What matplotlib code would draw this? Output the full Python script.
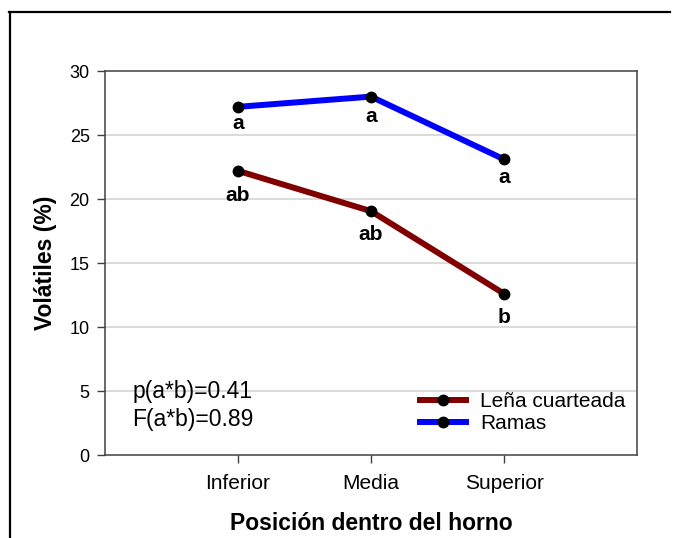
import matplotlib
matplotlib.use("Agg")
import matplotlib.pyplot as plt
from matplotlib.lines import Line2D

plt.rcParams['font.family'] = ['Liberation Sans', 'DejaVu Sans']

posiciones = ["Inferior", "Media", "Superior"]
lena = [22.2, 19.05, 12.6]
ramas = [27.2, 28.0, 23.1]
letras_lena = ["ab", "ab", "b"]
letras_ramas = ["a", "a", "a"]
stats = ["p(a*b)=0.41", "F(a*b)=0.89"]

x = [1, 2, 3]

fig = plt.figure(figsize=(6.74, 5.38), dpi=100)
ax = fig.add_axes([105/674, 1-455/538, 532/674, 384/538])

ax.plot(x, lena, color='#800000', lw=4.3, marker='o', ms=7.5,
        mfc='black', mec='black', label='Leña cuarteada', zorder=3)
ax.plot(x, ramas, color='#0000ff', lw=4.3, marker='o', ms=7.5,
        mfc='black', mec='black', label='Ramas', zorder=3)

# letras de significancia debajo de cada punto (desplazamiento en px)
off_lena = [-25, -23, -24]
off_ramas = [-17, -20, -18]
for xi, yi, t, o in zip(x, lena, letras_lena, off_lena):
    ax.annotate(t, (xi, yi), xytext=(0, o * 0.72), textcoords='offset points',
                ha='center', va='center', fontsize=15, fontweight='bold')
for xi, yi, t, o in zip(x, ramas, letras_ramas, off_ramas):
    ax.annotate(t, (xi, yi), xytext=(0, o * 0.72), textcoords='offset points',
                ha='center', va='center', fontsize=15, fontweight='bold')

ax.text(0.051, 0.165, stats[0], transform=ax.transAxes, fontsize=16.5, va='center')
ax.text(0.051, 0.092, stats[1], transform=ax.transAxes, fontsize=16.5, va='center')

ax.set_xlim(0, 4)
ax.set_ylim(0, 30)
ax.set_xticks(x)
ax.set_xticklabels(posiciones)
ax.set_yticks(range(0, 31, 5))
for v in range(5, 30, 5):
    ax.axhline(v, color='#d4d4d4', lw=1.2, zorder=0)

ax.tick_params(axis='x', direction='out', length=6, width=1, pad=8,
               labelsize=15, color='#404040')
ax.tick_params(axis='y', direction='out', length=6, width=1, pad=5,
               labelsize=13, color='#404040')
for s in ax.spines.values():
    s.set_color('#404040')
    s.set_linewidth(1.1)

ax.set_xlabel('Posición dentro del horno', fontsize=16.5, fontweight='bold', labelpad=13)
ax.set_ylabel('Volátiles (%)', fontsize=16.5, fontweight='bold', labelpad=9)

ax.legend(loc='center left', bbox_to_anchor=(0.592, 0.111), frameon=False,
          fontsize=15, handlelength=2.2, handletextpad=0.7, labelspacing=0.15,
          borderpad=0, borderaxespad=0)

# marco exterior
fig.add_artist(Line2D([9/674, 670/674], [1-12/538, 1-12/538], color='black', lw=1.6,
                      transform=fig.transFigure))
fig.add_artist(Line2D([10/674, 10/674], [1-12/538, 0], color='black', lw=1.6,
                      transform=fig.transFigure))

fig.savefig('out.png', dpi=100)
